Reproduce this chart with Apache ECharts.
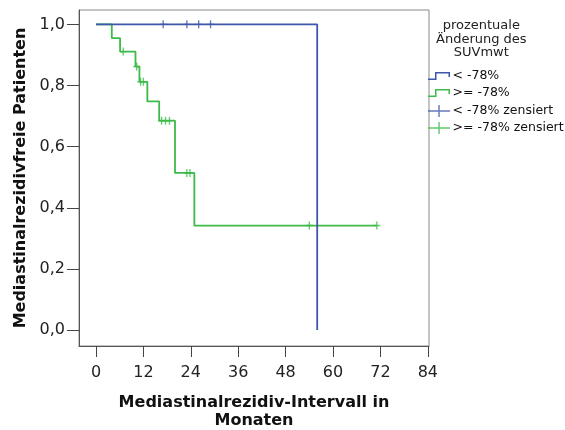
<!DOCTYPE html>
<html>
<head>
<meta charset="utf-8">
<script src="https://cdn.jsdelivr.net/npm/echarts@6/dist/echarts.min.js"></script>
<style>html,body{margin:0;padding:0;background:#fff}#c{width:565px;height:430px}</style>
</head>
<body>
<div id="c"></div>
<script>
// Kaplan-Meier step data
var blueTimes = [0, 56];
var blueSurv = [1.0, 0.0];
var blueCensorTimes = [17, 23, 26, 29];
var blueCensorSurv = [1.0, 1.0, 1.0, 1.0];

var greenTimes = [0, 4, 6.1, 10, 11, 13, 16, 20, 24.9, 71.1];
var greenSurv = [1.0, 0.955, 0.911, 0.862, 0.812, 0.748, 0.685, 0.514, 0.342, 0.342];
var greenCensorTimes = [6.9, 10.3, 11.3, 12.0, 16.6, 17.6, 18.6, 23.0, 23.8, 54.0, 71.1];
var greenCensorSurv = [0.911, 0.862, 0.812, 0.812, 0.685, 0.685, 0.685, 0.514, 0.514, 0.342, 0.342];

var xTicks = [0, 12, 24, 36, 48, 60, 72, 84];
var yTicks = [0, 0.2, 0.4, 0.6, 0.8, 1.0];

var seriesNames = ['< -78%', '>= -78%', '< -78% zensiert', '>= -78% zensiert'];
var legendTitle = 'prozentuale\nÄnderung des\nSUVmwt';
var xTitle = 'Mediastinalrezidiv-Intervall in\nMonaten';
var yTitle = 'Mediastinalrezidivfreie Patienten';

var BLUE = '#3d57aa';
var GREEN = '#3dba48';
var FONT = 'DejaVu Sans, Liberation Sans, Arial, sans-serif';

function zip(a, b) { return a.map(function (v, i) { return [v, b[i]]; }); }

var plusSym = 'path://M3,0 h1.4 v8 h-1.4 z M0,3.3 h7.4 v1.4 h-7.4 z';
var stepIcon = 'path://M0,6.5 h8.5 v1.5 h-8.5 z M7,0 h1.5 v8 h-1.5 z M7,0 h15 v1.5 h-15 z M20.5,0 h1.5 v5 h-1.5 z';
var plusIcon = 'path://M0,5.5 h23 v1.5 h-23 z M10.75,0 h1.5 v12.5 h-1.5 z';

var chart = echarts.init(document.getElementById('c'), null, { renderer: 'canvas' });
chart.setOption({
  animation: false,
  backgroundColor: '#fff',
  textStyle: { fontFamily: FONT },
  grid: { left: 79, right: 136, top: 10, bottom: 84, show: true, borderColor: '#8a8a8a', borderWidth: 1,
    containLabel: false, outerBoundsMode: 'none' },
  xAxis: {
    type: 'value', min: -4.3, max: 84.3, position: 'bottom',
    axisLine: { show: true, onZero: false, lineStyle: { color: '#555', width: 1 } },
    axisTick: { show: true, inside: false, length: 11, customValues: xTicks, lineStyle: { color: '#444', width: 1 } },
    axisLabel: { customValues: xTicks, inside: false, margin: 19, fontSize: 16, color: '#222', fontFamily: FONT },
    splitLine: { show: false },
    name: xTitle, nameLocation: 'middle', nameGap: 48,
    nameTextStyle: { fontSize: 16, fontWeight: 'bold', color: '#111', lineHeight: 18, fontFamily: FONT }
  },
  yAxis: {
    type: 'value', min: -0.052, max: 1.047, position: 'left',
    axisLine: { show: true, onZero: false, lineStyle: { color: '#555', width: 1 } },
    axisTick: { show: true, inside: false, length: 12, customValues: yTicks, lineStyle: { color: '#444', width: 1 } },
    axisLabel: { customValues: yTicks, inside: false, margin: 14, fontSize: 16, color: '#222', fontFamily: FONT,
      formatter: function (v) { return v.toFixed(1).replace('.', ','); } },
    splitLine: { show: false },
    name: yTitle, nameLocation: 'middle', nameGap: 50, nameRotate: 90,
    nameTextStyle: { fontSize: 16, fontWeight: 'bold', color: '#111', fontFamily: FONT }
  },
  graphic: [{
    type: 'text', left: 436, top: 19,
    style: { text: legendTitle, fill: '#222', font: '13px ' + FONT, textAlign: 'center', lineHeight: 13.5, width: 80 }
  }],
  legend: [{
    orient: 'vertical', left: 428, top: 69, padding: 0, itemGap: 3,
    itemWidth: 23, itemHeight: 8,
    textStyle: { fontSize: 12.5, lineHeight: 14, color: '#111', fontFamily: FONT, padding: [0, 0, 0, -3] },
    data: [{ name: seriesNames[0], icon: stepIcon }, { name: seriesNames[1], icon: stepIcon }]
  }, {
    orient: 'vertical', left: 428, top: 104, padding: 0, itemGap: 3,
    itemWidth: 23, itemHeight: 12,
    textStyle: { fontSize: 12.5, lineHeight: 14, color: '#111', fontFamily: FONT, padding: [0, 0, 0, -3] },
    data: [{ name: seriesNames[2], icon: plusIcon }, { name: seriesNames[3], icon: plusIcon }]
  }],
  series: [{
    name: seriesNames[0], type: 'line', step: 'end', showSymbol: false, symbol: 'none',
    data: zip(blueTimes, blueSurv), color: BLUE,
    lineStyle: { color: BLUE, width: 1.8 }, itemStyle: { color: BLUE }, z: 3
  }, {
    name: seriesNames[1], type: 'line', step: 'end', showSymbol: false, symbol: 'none',
    data: zip(greenTimes, greenSurv), color: GREEN,
    lineStyle: { color: GREEN, width: 1.8 }, itemStyle: { color: GREEN }, z: 2
  }, {
    name: seriesNames[2], type: 'scatter', symbol: plusSym, symbolSize: [7, 8],
    data: zip(blueCensorTimes, blueCensorSurv), itemStyle: { color: BLUE }, z: 4
  }, {
    name: seriesNames[3], type: 'scatter', symbol: plusSym, symbolSize: [7, 8],
    data: zip(greenCensorTimes, greenCensorSurv), itemStyle: { color: GREEN }, z: 4
  }]
});
</script>
</body>
</html>
